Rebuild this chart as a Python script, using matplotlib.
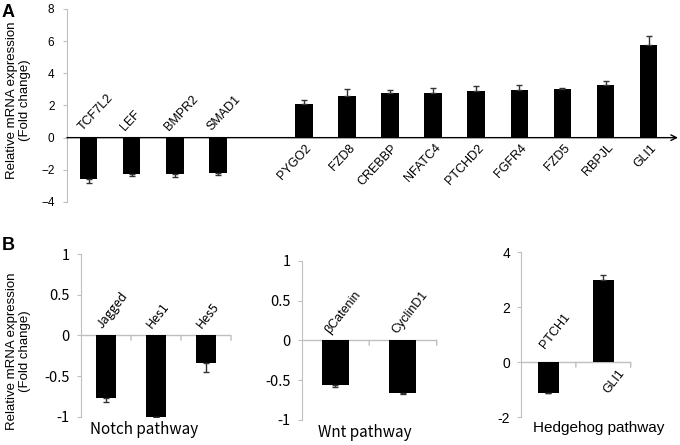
import matplotlib
matplotlib.use("Agg")
import matplotlib.pyplot as plt
import numpy as np

plt.rcParams['font.family'] = ['Liberation Sans', 'DejaVu Sans']

# panel A data (slot 4 is left empty in the original)
a_genes = ['TCF7L2', 'LEF', 'BMPR2', 'SMAD1', 'PYGO2', 'FZD8', 'CREBBP',
           'NFATC4', 'PTCHD2', 'FGFR4', 'FZD5', 'RBPJL', 'GLI1']
a_vals = [-2.58, -2.23, -2.23, -2.2, 2.1, 2.56, 2.77, 2.79, 2.92, 2.96, 3.0, 3.27, 5.73]
a_err = [0.27, 0.17, 0.2, 0.1, 0.23, 0.48, 0.17, 0.31, 0.27, 0.31, 0.1, 0.25, 0.62]

# panel B data
notch_genes = ['Jagged', 'Hes1', 'Hes5']
notch_vals = [-0.77, -1.0, -0.335]
notch_err = [0.055, 0.0, 0.11]

wnt_genes = ['βCatenin', 'CyclinD1']
wnt_vals = [-0.56, -0.66]
wnt_err = [0.03, 0.01]

hh_genes = ['PTCH1', 'GLI1']
hh_vals = [-1.1, 2.98]
hh_err = [0.03, 0.18]

GRAY = '#bfbfbf'
KR = ['Noto Sans CJK KR', 'DejaVu Sans']
AR = ['Liberation Sans', 'DejaVu Sans']


def one_sided(vals, errs):
    vals = np.array(vals)
    errs = np.array(errs)
    lower = np.where(vals < 0, errs, 0)
    upper = np.where(vals >= 0, errs, 0)
    return [lower, upper]


def label_bars(ax, x, vals, names, rot, fs, family, neg_off, pos_off):
    for xi, v, name in zip(x, vals, names):
        if v < 0:
            ax.annotate(name, xy=(xi, 0), xytext=neg_off, textcoords='offset points',
                        rotation=rot, rotation_mode='anchor', ha='left', va='center',
                        fontsize=fs, family=family)
        else:
            ax.annotate(name, xy=(xi, 0), xytext=pos_off, textcoords='offset points',
                        rotation=rot, rotation_mode='anchor', ha='right', va='center',
                        fontsize=fs, family=family)


fig = plt.figure(figsize=(6.8, 4.45), dpi=100)

# ---------------- panel A ----------------
axA = fig.add_axes([0.0985, 0.5461, 0.887, 0.4337])
a_x = np.r_[0:4, 5:14]
axA.bar(a_x, a_vals, width=0.41, color='black', zorder=3)
axA.errorbar(a_x, a_vals, yerr=one_sided(a_vals, a_err), fmt='none',
             ecolor='#333333', elinewidth=1, capsize=2.5, capthick=1, zorder=4)
axA.set_xlim(-0.5, 13.5)
axA.set_ylim(-4, 8)
axA.set_yticks(np.arange(-4, 9, 2))
axA.tick_params(axis='y', labelsize=8.5, color=GRAY, length=3, pad=6)
axA.set_xticks([])
for s in ['top', 'right', 'bottom']:
    axA.spines[s].set_visible(False)
axA.spines['left'].set_color(GRAY)
axA.annotate('', xy=(1.013, 0), xytext=(0, 0), xycoords=axA.get_yaxis_transform(),
             arrowprops=dict(arrowstyle='->', color='black', lw=1, shrinkA=0, shrinkB=0))
label_bars(axA, a_x, a_vals, a_genes, 47, 9, AR, (-6, 6), (4, -6))
fig.text(0.027, 0.775, 'Relative mRNA expression\n(Fold change)', rotation=90,
         ha='center', va='center', fontsize=9.5, linespacing=1.15)
fig.text(0.002, 0.992, 'A', fontsize=13, fontweight='bold', va='top')


def pathway(rect, genes, vals, errs, ylim, yticks, ticklabels, width, title, title_x,
            family, tfs, lfamily, neg_off, pos_off):
    ax = fig.add_axes(rect)
    x = np.arange(len(genes))
    ax.bar(x, vals, width=width, color='black', zorder=3)
    ax.errorbar(x, vals, yerr=one_sided(vals, errs), fmt='none', ecolor='#333333',
                elinewidth=1, capsize=2.5, capthick=1, zorder=4)
    ax.set_xlim(-0.5, len(genes) - 0.5)
    ax.set_ylim(*ylim)
    ax.set_yticks(yticks)
    ax.set_yticklabels(ticklabels, family=family, fontsize=tfs)
    ax.tick_params(axis='y', color=GRAY, length=3, pad=5)
    ax.set_xticks([])
    for s in ['top', 'right', 'bottom']:
        ax.spines[s].set_visible(False)
    ax.spines['left'].set_color(GRAY)
    ax.axhline(0, color=GRAY, lw=1, zorder=2)
    # category boundary ticks pointing down from the zero line
    for b in np.arange(0.5, len(genes), 1.0):
        ax.annotate('', xy=(b, 0), xytext=(0, -3.5), textcoords='offset points',
                    arrowprops=dict(arrowstyle='-', color=GRAY, lw=1, shrinkA=0, shrinkB=0))
    label_bars(ax, x, vals, genes, 52, 9, lfamily, neg_off, pos_off)
    ax.set_xlabel(title, family=family, fontsize=11)
    ax.xaxis.set_label_coords(title_x, -0.025)
    return ax


axN = pathway([0.1191, 0.0636, 0.2206, 0.3656], notch_genes, notch_vals, notch_err,
              (-1, 1), [-1, -0.5, 0, 0.5, 1], ['-1', '-0.5', '0', '0.5', '1'], 0.39,
              'Notch pathway', 0.42, KR, 10.5, KR, (-5, 6), (4, -6))
axW = pathway([0.4437, 0.0562, 0.1985, 0.358], wnt_genes, wnt_vals, wnt_err,
              (-1, 1), [-1, -0.5, 0, 0.5, 1], ['-1', '-0.5', '0', '0.5', '1'], 0.4,
              'Wnt pathway', 0.47, KR, 10.5, AR, (-6, 6), (4, -6))
axH = pathway([0.7662, 0.0622, 0.1613, 0.3708], hh_genes, hh_vals, hh_err,
              (-2, 4), [-2, 0, 2, 4], ['-2', '0', '2', '4'], 0.38,
              'Hedgehog pathway', 0.71, AR, 10, AR, (-4, 11), (14, -6))

fig.text(0.027, 0.21, 'Relative mRNA expression\n(Fold change)', rotation=90,
         ha='center', va='center', fontsize=9.5, linespacing=1.15)
fig.text(0.002, 0.468, 'B', fontsize=13, fontweight='bold', va='top')

fig.savefig('out.png', dpi=100)
